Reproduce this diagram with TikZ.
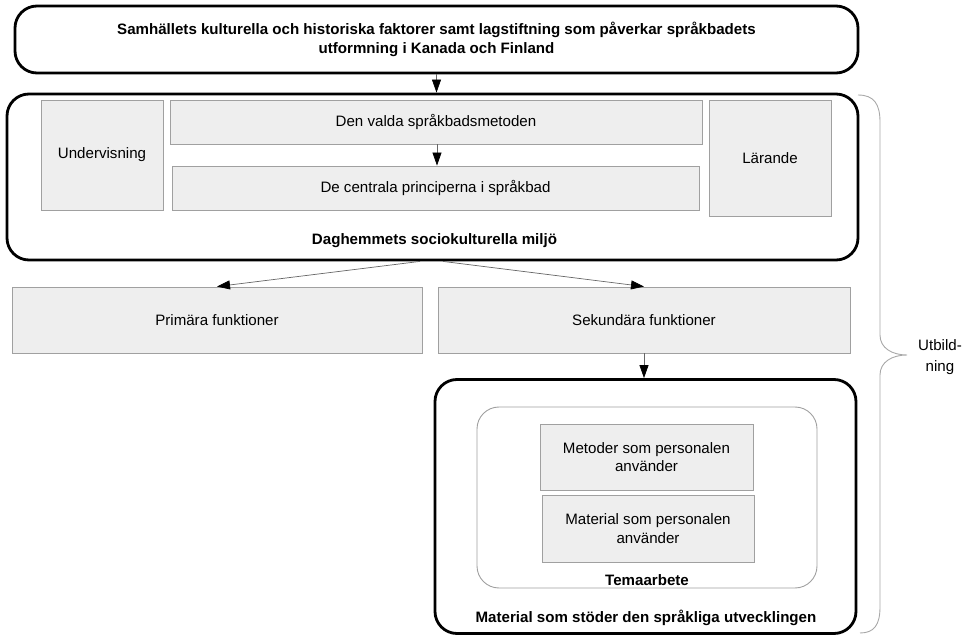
\documentclass[tikz,border=0pt]{standalone}
\usepackage{fontspec}
\setmainfont{Liberation Sans}
\usetikzlibrary{arrows.meta}

\definecolor{boxfill}{HTML}{EEEEEE}
\definecolor{boxline}{HTML}{A0A0A0}
\definecolor{braceline}{HTML}{A8A8A8}
\definecolor{connline}{HTML}{666666}

\tikzset{
  txt/.style={font=\fontsize{15.1}{18.5}\selectfont, align=center},
  btxt/.style={font=\fontsize{15.1}{18.5}\selectfont\bfseries, align=center},
  thickbox/.style={draw=black, line width=2.8pt, rounded corners=22pt, inner sep=0pt},
  softbox/.style={draw=boxline, line width=0.9pt, rounded corners=22pt, inner sep=0pt},
  greybox/.style={txt, draw=boxline, fill=boxfill, line width=0.9pt, inner sep=2pt},
  conn/.style={draw=connline, line width=0.7pt,
    -{Triangle[length=13pt, width=9pt, color=black, fill=black]}},
}

\begin{document}
\begin{tikzpicture}[x=1pt, y=-1pt]
\useasboundingbox (0,0) rectangle (970,636);

% top frame
\node[thickbox, btxt, minimum width=843, minimum height=67] (top) at (436.5,39.5)
  {Samhällets kulturella och historiska faktorer samt lagstiftning som påverkar språkbadets\\utformning i Kanada och Finland};

% sociocultural environment of the day care
\node[thickbox, minimum width=851, minimum height=166] (socio) at (432.5,177) {};
\node[btxt] (sociolabel) at (434.5,241) {Daghemmets sociokulturella miljö};
\node[greybox, minimum width=122, minimum height=110] (und) at (102,155) {Undervisning};
\node[greybox, minimum width=532, minimum height=44] (valda) at (436,122) {Den valda språkbadsmetoden};
\node[greybox, minimum width=527, minimum height=44] (princ) at (435.5,188) {De centrala principerna i språkbad};
\node[greybox, minimum width=122, minimum height=116] (lar) at (770,158) {Lärande};

% functions
\node[greybox, minimum width=410, minimum height=66] (prim) at (217,320) {Primära funktioner};
\node[greybox, minimum width=412, minimum height=66] (sek) at (644,320) {Sekundära funktioner};

% supporting material
\node[thickbox, minimum width=421, minimum height=254] (mat) at (645.5,506.5) {};
\node[btxt] (matlabel) at (646,618) {Material som stöder den språkliga utvecklingen};
\node[softbox, minimum width=340, minimum height=181] (tema) at (647,497.5) {};
\node[btxt] (temalabel) at (647,580.5) {Temaarbete};
\node[greybox, minimum width=213, minimum height=66] (metoder) at (646.5,457) {Metoder som personalen\\använder};
\node[greybox, minimum width=212, minimum height=67] (material) at (648,528.5) {Material som personalen\\använder};

% connectors
\draw[conn] (top.south) -- (top.south |- socio.north);
\draw[conn] ([xshift=1pt]valda.south) -- ([xshift=1pt]valda.south |- princ.north);
\draw[conn] ([xshift=-12.5pt]socio.south) -- (prim.north);
\draw[conn] ([xshift=10.5pt]socio.south) -- (sek.north);
\draw[conn] (sek.south) -- (sek.south |- mat.north);

% brace
\draw[braceline, line width=0.9pt]
  (858,95) .. controls (874,95) and (880,104) .. (880,122)
  -- (880,335) .. controls (880,348) and (892,355) .. (907,355)
  .. controls (892,355) and (880,362) .. (880,375)
  -- (880,607) .. controls (880,625) and (874,633) .. (860,633);
\node[txt, font=\fontsize{15.1}{21}\selectfont] (utb) at (940,357) {Utbild-\\ning};
\end{tikzpicture}
\end{document}
